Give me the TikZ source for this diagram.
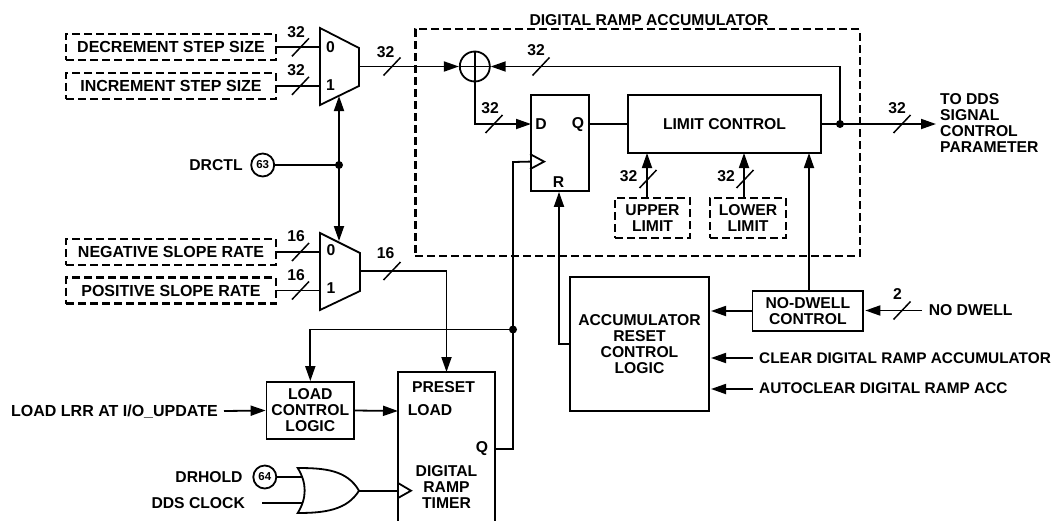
\documentclass[tikz,border=0pt]{standalone}
\usepackage{fontspec}
\setmainfont{Liberation Sans}
\usetikzlibrary{arrows.meta,calc}
\tikzset{
  wire/.style={line width=1.8pt,line cap=butt,line join=miter,draw=black},
  arr/.style={wire,-{Triangle[length=15pt,width=10pt]}},
  darr/.style={wire,{Triangle[length=15pt,width=10pt]}-{Triangle[length=15pt,width=10pt]}},
  busmark/.style={line width=1.5pt,draw=black},
  lbl/.style={font=\fontsize{15.7}{16}\selectfont\bfseries,inner sep=0pt,align=center,text=black},
  solidbox/.style={draw=black,line width=1.8pt,fill=none,rectangle,inner sep=0pt,align=center,font=\fontsize{15.7}{16}\selectfont\bfseries},
  dashbox/.style={draw=black,line width=2.2pt,dash pattern=on 8pt off 4pt,rectangle,inner sep=0pt,align=center,font=\fontsize{15.7}{16}\selectfont\bfseries},
  wide/.style={font=\fontsize{16}{16}\selectfont\bfseries},
  pin/.style={circle,draw=black,line width=1.8pt,minimum size=23pt,inner sep=0pt,font=\fontsize{11.5}{12}\selectfont\bfseries},
  dotn/.style={circle,fill=black,minimum size=8pt,inner sep=0pt},
}
\newcommand{\busslash}[1]{\draw[busmark] ($(#1)+(-8.5,9)$) -- ($(#1)+(8.5,-9)$);}
\begin{document}
\begin{tikzpicture}[x=1pt,y=-1pt]
\useasboundingbox (0,0) rectangle (1054,520);
% input dashed boxes
\node[dashbox,wide,minimum width=210pt,minimum height=26pt] (dec) at (171,47.3) {DECREMENT STEP SIZE};
\node[dashbox,wide,minimum width=210pt,minimum height=26pt] (inc) at (171,85.8) {INCREMENT STEP SIZE};
\node[dashbox,wide,minimum width=210pt,minimum height=26pt] (neg) at (171,252) {NEGATIVE SLOPE RATE};
\node[dashbox,wide,minimum width=210pt,minimum height=26pt] (pos) at (171,290.5) {POSITIVE SLOPE RATE};
% mux 1
\coordinate (m1a) at (320,28); \coordinate (m1b) at (359,48); \coordinate (m1c) at (359,86); \coordinate (m1d) at (320,105);
\draw[wire] (m1a) -- (m1b) -- (m1c) -- (m1d) -- cycle;
\coordinate (m1i0) at (320,47.3); \coordinate (m1i1) at (320,85.8); \coordinate (m1o) at (359,66.5); \coordinate (m1ctl) at (339,96);
\node[lbl] (m1l0) at (330.5,47) {0};
\node[lbl] (m1l1) at (330.5,85) {1};
\draw[wire] (dec.east) -- (m1i0);
\draw[wire] (inc.east) -- (m1i1);
\coordinate (s1) at (300.5,47.3); \busslash{s1}
\coordinate (s2) at (300.5,85.8); \busslash{s2}
\node[lbl] (t32a) at (296,32) {32};
\node[lbl] (t32b) at (296,70) {32};
% mux 2
\coordinate (m2a) at (320,233); \coordinate (m2b) at (360,253); \coordinate (m2c) at (360,291); \coordinate (m2d) at (320,310);
\draw[wire] (m2a) -- (m2b) -- (m2c) -- (m2d) -- cycle;
\coordinate (m2i0) at (320,252); \coordinate (m2i1) at (320,290.5); \coordinate (m2o) at (360,271); \coordinate (m2ctl) at (339,241);
\node[lbl] (m2l0) at (331,250) {0};
\node[lbl] (m2l1) at (331,288) {1};
\draw[wire] (neg.east) -- (m2i0);
\draw[wire] (pos.east) -- (m2i1);
\coordinate (s3) at (300.5,252); \busslash{s3}
\coordinate (s4) at (300.5,290.5); \busslash{s4}
\node[lbl] (t16a) at (296,236) {16};
\node[lbl] (t16b) at (296,275) {16};
% DRCTL
\node[lbl] (drctl) at (216,165) {DRCTL};
\node[pin] (p63) at (262.7,165) {63};
\node[dotn] (d1) at (339,165) {};
\draw[wire] (p63.east) -- (d1.center);
\draw[darr] (m1ctl) -- (m2ctl);
% DRA box
\node[dashbox,minimum width=444.5pt,minimum height=227pt] (dra) at (637.7,142.7) {};
\node[lbl] (dratitle) at (649,20) {DIGITAL RAMP ACCUMULATOR};
% adder
\node[circle,draw=black,line width=1.8pt,minimum size=30pt,inner sep=0pt] (add) at (474.8,66.5) {};
\draw[line width=1.4pt] (add.north) -- (add.south) (add.west) -- (add.east);
\draw[arr] (m1o) -- (add.west);
\coordinate (s5) at (392,66.5); \busslash{s5}
\node[lbl] (t32c) at (385.7,52) {32};
% FF
\node[solidbox,minimum width=58pt,minimum height=96pt] (ff) at (560,143) {};
\node[lbl] (ffd) at (541,124.5) {D};
\node[lbl] (ffq) at (578,124.5) {Q};
\node[lbl] (ffr) at (558.5,182) {R};
\coordinate (ffk1) at ($(ff.north west)+(0,60)$);
\coordinate (ffk2) at ($(ff.north west)+(14,67.5)$);
\coordinate (ffk3) at ($(ff.north west)+(0,75)$);
\draw[wire] (ffk1) -- (ffk2) -- (ffk3);
\coordinate (ffD) at (531,124);
\coordinate (ffQ) at (589,124);
\coordinate (addcorner) at (add.south |- ffD);
\draw[arr] (add.south) -- (addcorner) -- (ffD);
\coordinate (s6) at (494,124); \busslash{s6}
\node[lbl] (t32d) at (490,108) {32};
% limit control
\node[solidbox,minimum width=193pt,minimum height=58pt] (lim) at (724.5,124) {LIMIT CONTROL};
\draw[wire] (ffQ) -- (lim.west);
\node[dotn] (d2) at (840,124) {};
\coordinate (out) at (936,124);
\draw[wire] (lim.east) -- (d2.center);
\draw[arr] (d2.center) -- (out);
\coordinate (s7) at (902,124); \busslash{s7}
\node[lbl] (t32e) at (897,108) {32};
\node[lbl,align=left,anchor=west] (todds) at (940,123.5) {TO DDS\\SIGNAL\\CONTROL\\PARAMETER};
\coordinate (fbc) at (840,66.5);
\draw[arr] (d2.center) -- (fbc) -- (add.east);
\coordinate (s8) at (541,66.5); \busslash{s8}
\node[lbl] (t32f) at (536,50.5) {32};
% limits
\node[dashbox,minimum width=75pt,minimum height=40pt] (up) at (652.5,218) {UPPER\\LIMIT};
\node[dashbox,minimum width=76pt,minimum height=40pt] (lo) at (748,218) {LOWER\\LIMIT};
\coordinate (upt) at (647,153); \coordinate (upb) at (647,198);
\coordinate (lot) at (744,153); \coordinate (lob) at (744,198);
\draw[arr] (upb) -- (upt);
\draw[arr] (lob) -- (lot);
\coordinate (s9) at (648,179); \busslash{s9}
\coordinate (s10) at (745,179); \busslash{s10}
\node[lbl] (t32g) at (628.5,176) {32};
\node[lbl] (t32h) at (726,176) {32};
% accumulator reset
\node[solidbox,minimum width=139pt,minimum height=134pt] (acc) at (639.5,344) {ACCUMULATOR\\RESET\\CONTROL\\LOGIC};
\node[solidbox,minimum width=110.5pt,minimum height=40pt] (nd) at (807.8,311) {NO-DWELL\\CONTROL};
\coordinate (ndup) at (809,153);
\draw[arr] (nd.north -| ndup) -- (ndup);
\coordinate (accndin) at (711,311);
\draw[arr] (nd.west) -- (accndin);
\coordinate (rc) at (559,344);
\draw[arr] (acc.west |- rc) -- (rc) -- (ff.south -| rc);
% no dwell
\node[lbl,anchor=west] (ndt) at (928.6,310.5) {NO DWELL};
\coordinate (ndin) at (865.3,310.5);
\coordinate (ndsrc) at (922,310.5);
\draw[arr] (ndsrc) -- (ndin);
\coordinate (s11) at (902,310.5); \busslash{s11}
\node[lbl] (t2) at (897.5,294) {2};
\node[lbl,anchor=west,font=\fontsize{15.4}{16}\selectfont\bfseries] (clr) at (759,358) {CLEAR DIGITAL RAMP ACCUMULATOR};
\node[lbl,anchor=west,font=\fontsize{15.4}{16}\selectfont\bfseries] (acl) at (759,388) {AUTOCLEAR DIGITAL RAMP ACC};
\coordinate (clrsrc) at (752.5,358); \coordinate (clrtip) at (711,358);
\coordinate (aclsrc) at (752.5,389); \coordinate (acltip) at (711,389);
\draw[arr] (clrsrc) -- (clrtip);
\draw[arr] (aclsrc) -- (acltip);
% timer
\coordinate (tnw) at (398,372); \coordinate (tne) at (495,372); \coordinate (tsw) at (398,521); \coordinate (tse) at (495,521);
\draw[wire] (tsw) -- (tnw) -- (tne) -- (tse);
\node[lbl] (tpre) at (443.5,387) {PRESET};
\node[lbl] (tload) at (430,410.5) {LOAD};
\node[lbl] (tq) at (482,449) {Q};
\node[lbl] (tdig) at (446.5,487) {DIGITAL\\RAMP\\TIMER};
\coordinate (tk1) at (398,483); \coordinate (tk2) at (411,490.7); \coordinate (tk3) at (398,498);
\draw[wire] (tk1) -- (tk2) -- (tk3);
% mux2 to timer
\coordinate (m2c1) at (446.5,271);
\coordinate (ttop) at (446.5,372);
\draw[arr] (m2o) -- (m2c1) -- (ttop);
\coordinate (s12) at (392,271); \busslash{s12}
\node[lbl] (t16c) at (385.7,253) {16};
% load control
\node[solidbox,minimum width=87.5pt,minimum height=57pt] (lcl) at (310.3,410.5) {LOAD\\CONTROL\\LOGIC};
\node[lbl,anchor=west,wide] (lrr) at (11,412) {LOAD LRR AT I/O\_UPDATE};
\coordinate (lrrs) at (224,411);
\draw[arr] (lrrs) -- (lcl.west);
\coordinate (tload1) at (398,411);
\draw[arr] (lcl.east) -- (tload1);
% Q feedback
\node[dotn] (d3) at (513,329.5) {};
\coordinate (tq1) at (495,449); \coordinate (tq2) at (513,449); \coordinate (ck1) at (513,162);
\coordinate (ffk) at ($(ff.north west)+(0,67.5)$);
\draw[wire] (tq1) -- (tq2) -- (ck1) -- (ffk);
\coordinate (lc1) at (lcl.north |- d3);
\draw[arr] (d3.center) -- (lc1) -- (lcl.north);
% OR gate
\coordinate (ora) at (297.7,468); \coordinate (orb) at (359,490.7); \coordinate (orc) at (297.7,513);
\draw[wire] (ora) .. controls (325,468) and (347,470) .. (orb)
  .. controls (347,510) and (325,513) .. (orc)
  .. controls (307,498) and (307,483) .. (ora) -- cycle;
\node[lbl] (drh) at (209,477) {DRHOLD};
\node[pin] (p64) at (264.8,477) {64};
\node[lbl] (ddsc) at (198.2,503) {DDS CLOCK};
\coordinate (ori1) at (302,477); \coordinate (ori2) at (302,503); \coordinate (dds1) at (262,503);
\draw[wire] (p64.east) -- (ori1);
\draw[wire] (dds1) -- (ori2);
\coordinate (orin) at (398,490.7);
\draw[wire] (orb) -- (orin);
\end{tikzpicture}
\end{document}
